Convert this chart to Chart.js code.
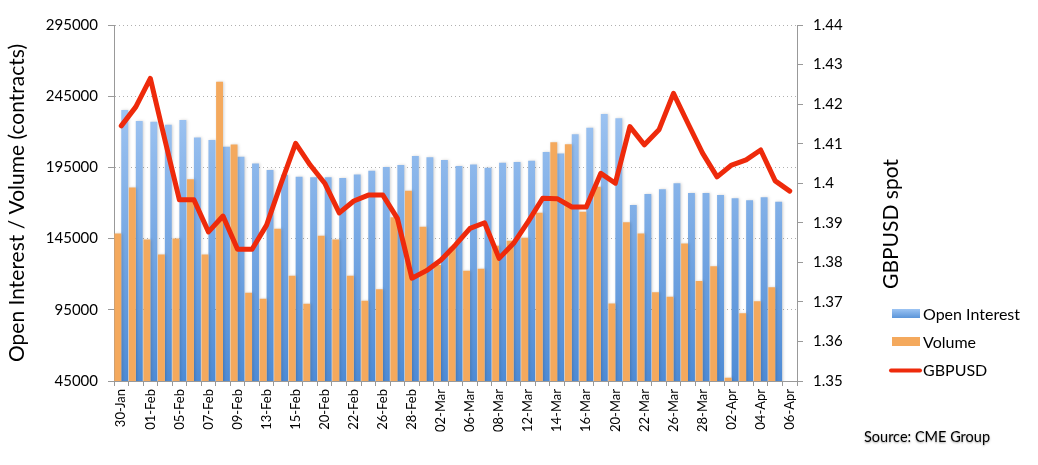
<!DOCTYPE html>
<html>
<head>
<meta charset="utf-8">
<script src="https://cdn.jsdelivr.net/npm/chart.js@4.4.0/dist/chart.umd.min.js"></script>
<style>
html, body { margin: 0; padding: 0; background: #fff; }
#wrap { width: 1038px; height: 465px; position: relative; }
</style>
</head>
<body>
<div id="wrap"><canvas id="chart"></canvas></div>
<script>
const dates = ["30-Jan","31-Jan","01-Feb","02-Feb","05-Feb","06-Feb","07-Feb","08-Feb","09-Feb","12-Feb","13-Feb","14-Feb","15-Feb","16-Feb","20-Feb","21-Feb","22-Feb","23-Feb","26-Feb","27-Feb","28-Feb","01-Mar","02-Mar","05-Mar","06-Mar","07-Mar","08-Mar","09-Mar","12-Mar","13-Mar","14-Mar","15-Mar","16-Mar","19-Mar","20-Mar","21-Mar","22-Mar","23-Mar","26-Mar","27-Mar","28-Mar","29-Mar","02-Apr","03-Apr","04-Apr","05-Apr","06-Apr"];

const openInterest = [235300, 227600, 227000, 225000, 228300, 216000, 214200, 209500, 202500, 197800,
  193200, 189900, 188500, 188000, 188000, 187600, 190100, 192700, 195200, 196700,
  203000, 202200, 200200, 196000, 197100, 194800, 198300, 198800, 199700, 205800,
  204800, 218200, 222900, 232500, 229500, 168600, 176300, 179600, 183800, 177000,
  177000, 175600, 173300, 171900, 174000, 170900, null];

const volume = [148600, 180800, 144400, 133900, 145000, 186600, 133900, 255200, 211100, 107000,
  102800, 152000, 118900, 99300, 147000, 144300, 118900, 101300, 109400, 160000,
  178600, 153300, 126500, 138600, 122400, 123800, 140000, 143500, 145600, 163200,
  212600, 211200, 163800, 181400, 99500, 156400, 148600, 107300, 104200, 141600,
  115200, 125500, 47300, 92500, 101000, 110800, null];

const gbpusd = [1.4145, 1.4193, 1.4265, 1.411, 1.3958, 1.3958, 1.3877, 1.3917, 1.3833, 1.3833,
  1.3894, 1.4, 1.4101, 1.4046, 1.4, 1.3925, 1.3955, 1.397, 1.397, 1.3911,
  1.376, 1.3779, 1.3806, 1.3844, 1.3886, 1.39, 1.381, 1.3848, 1.3903, 1.3962,
  1.3961, 1.394, 1.394, 1.4025, 1.4, 1.4143, 1.4097, 1.4135, 1.4227, 1.4151,
  1.4076, 1.4016, 1.4046, 1.4059, 1.4084, 1.4006, 1.398];

const FONT = "Lato";
const BLUE_TOP = "#b6d5fa", BLUE_BOT = "#4e8bd5";
const ORANGE = "#f4a95d";
const RED = "#ee2a0b";

// vertical gradient for the open interest bars
function blueFill(c) {
  const { chart } = c;
  const area = chart.chartArea;
  if (!area) return BLUE_BOT;
  const g = chart.ctx.createLinearGradient(0, area.top, 0, area.bottom);
  g.addColorStop(0, BLUE_TOP);
  g.addColorStop(1, BLUE_BOT);
  return g;
}

// soft shadow under the bars
const barShadow = {
  id: "barShadow",
  beforeDatasetDraw(chart, args) {
    if (args.meta.type !== "bar") return;
    const ctx = chart.ctx;
    ctx.save();
    ctx.shadowColor = "rgba(0,0,0,0.18)";
    ctx.shadowBlur = 3;
    ctx.shadowOffsetX = 1;
  },
  afterDatasetDraw(chart, args) {
    if (args.meta.type !== "bar") return;
    chart.ctx.restore();
  }
};

// right axis title, legend and source note
const extras = {
  id: "extras",
  afterDraw(chart) {
    const ctx = chart.ctx;
    ctx.save();
    ctx.fillStyle = "#000";
    ctx.font = "21px " + FONT;
    ctx.textAlign = "center";
    ctx.textBaseline = "middle";
    ctx.translate(891, 224);
    ctx.rotate(-Math.PI / 2);
    ctx.fillText("GBPUSD spot", 0, 0);
    ctx.restore();

    const ds = chart.data.datasets;
    ctx.save();
    const g = ctx.createLinearGradient(0, 309, 0, 318);
    g.addColorStop(0, "#9cc4f3");
    g.addColorStop(1, "#5b95d9");
    ctx.fillStyle = g;
    ctx.fillRect(892, 309, 28, 9);
    ctx.fillStyle = ds[1].backgroundColor;
    ctx.fillRect(892, 337, 28, 9);
    ctx.strokeStyle = ds[2].borderColor;
    ctx.lineWidth = 4;
    ctx.lineCap = "round";
    ctx.beginPath();
    ctx.moveTo(891, 370.5);
    ctx.lineTo(920, 370.5);
    ctx.stroke();

    ctx.fillStyle = "#000";
    ctx.font = "16px " + FONT;
    ctx.textAlign = "left";
    ctx.textBaseline = "middle";
    ctx.fillText(ds[0].label, 923, 315);
    ctx.fillText(ds[1].label, 923, 343);
    ctx.fillText(ds[2].label, 923, 371);

    ctx.shadowColor = "rgba(0,0,0,0.35)";
    ctx.shadowBlur = 2;
    ctx.shadowOffsetY = 1;
    ctx.font = "14.5px " + FONT;
    ctx.fillText("Source: CME Group", 864, 437);
    ctx.restore();
  }
};

const ctx = document.getElementById("chart").getContext("2d");
new Chart(ctx, {
  type: "bar",
  data: {
    labels: dates,
    datasets: [
      {
        label: "Open Interest",
        data: openInterest,
        backgroundColor: blueFill,
        yAxisID: "y",
        order: 2,
        categoryPercentage: 0.95,
        barPercentage: 1.0
      },
      {
        label: "Volume",
        data: volume,
        backgroundColor: ORANGE,
        yAxisID: "y",
        order: 1,
        categoryPercentage: 0.95,
        barPercentage: 1.0
      },
      {
        type: "line",
        label: "GBPUSD",
        data: gbpusd,
        borderColor: RED,
        backgroundColor: RED,
        borderWidth: 5,
        pointRadius: 0,
        tension: 0,
        borderJoinStyle: "round",
        borderCapStyle: "round",
        yAxisID: "y1",
        order: 0
      }
    ]
  },
  options: {
    responsive: true,
    maintainAspectRatio: false,
    animation: false,
    layout: { padding: { top: 25, right: 131, left: 0, bottom: 0 } },
    plugins: {
      legend: { display: false },
      tooltip: { enabled: false }
    },
    scales: {
      x: {
        grid: { offset: true, drawOnChartArea: false, tickLength: 5, color: "#999" },
        border: { color: "#999" },
        ticks: {
          autoSkip: false,
          maxRotation: 90,
          minRotation: 90,
          padding: 3,
          color: "#000",
          font: { family: FONT, size: 13 },
          callback: (v, i) => (i % 2 === 0 ? dates[i] : "")
        },
        afterFit: s => { s.height = 84; }
      },
      y: {
        position: "left",
        min: 45000,
        max: 295000,
        ticks: {
          stepSize: 50000,
          padding: 10,
          color: "#000",
          font: { family: FONT, size: 15 },
          callback: v => String(v)
        },
        grid: { color: "#b0b0b0", tickColor: "#999", tickLength: 6 },
        border: { color: "#999", dash: [1, 3] },
        title: {
          display: true,
          text: "Open Interest / Volume (contracts)",
          color: "#000",
          font: { family: FONT, size: 21 },
          padding: { top: 5, bottom: 0 }
        },
        afterFit: s => { s.width = 114; }
      },
      y1: {
        position: "right",
        min: 1.35,
        max: 1.44,
        ticks: {
          stepSize: 0.01,
          padding: 10,
          color: "#000",
          font: { family: FONT, size: 15 },
          callback: v => String(parseFloat(v.toFixed(2)))
        },
        grid: { drawOnChartArea: false, color: "#999", tickLength: 6 },
        border: { color: "#999" },
        afterFit: s => { s.width = 110; }
      }
    }
  },
  plugins: [barShadow, extras]
});
</script>
</body>
</html>
